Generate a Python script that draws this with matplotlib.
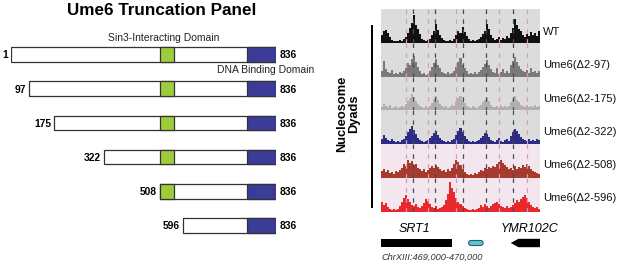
import numpy as np
import matplotlib
matplotlib.use('Agg')
import matplotlib.pyplot as plt
from matplotlib.patches import Rectangle, FancyBboxPatch, Polygon
from matplotlib.lines import Line2D

plt.rcParams['font.family'] = ['Liberation Sans', 'DejaVu Sans']

# ---------------- data: Ume6 truncation constructs ----------------
construct_starts = [1, 97, 175, 322, 508, 596]
protein_end = 836
sin3_domain = (508, 561)
dbd_domain = (760, 836)

# ---------------- data: nucleosome dyad tracks ----------------
region = (469000, 470000)
track_labels = ["WT", "Ume6(\u03942-97)", "Ume6(\u03942-175)",
                "Ume6(\u03942-322)", "Ume6(\u03942-508)", "Ume6(\u03942-596)"]
wt = [8, 12, 13, 10, 6, 3, 2, 2, 2, 3, 2, 4, 6, 10, 15, 20, 28, 18, 14, 9,
      4, 3, 2, 3, 4, 8, 12, 19, 13, 8, 5, 3, 2, 2, 3, 2, 4, 8, 12, 10,
      16, 11, 7, 4, 2, 3, 2, 3, 4, 6, 9, 12, 19, 14, 8, 5, 3, 4, 6, 3,
      5, 4, 7, 5, 10, 15, 24, 18, 14, 12, 8, 6, 9, 7, 11, 8, 10, 7, 12]
d97 = [6, 16, 8, 5, 4, 7, 3, 4, 3, 5, 4, 6, 9, 14, 12, 18, 21, 15, 10, 6,
       3, 4, 2, 3, 6, 10, 14, 18, 12, 9, 5, 4, 3, 5, 3, 4, 6, 10, 15, 19,
       12, 9, 6, 3, 4, 3, 5, 3, 5, 7, 10, 13, 17, 12, 8, 5, 4, 9, 3, 5,
       8, 4, 6, 4, 12, 16, 20, 15, 11, 8, 6, 5, 7, 4, 9, 5, 6, 4, 6]
d175 = [3, 6, 4, 3, 5, 2, 3, 4, 2, 3, 4, 3, 6, 9, 12, 16, 13, 9, 6, 4,
        3, 2, 4, 2, 4, 7, 11, 14, 10, 6, 4, 3, 4, 2, 3, 5, 4, 8, 12, 14,
        10, 7, 4, 3, 2, 4, 3, 2, 4, 5, 8, 10, 12, 9, 5, 3, 3, 4, 2, 5,
        3, 4, 3, 4, 8, 11, 14, 10, 8, 5, 4, 3, 5, 3, 4, 3, 5, 3, 4]
d322 = [5, 9, 6, 4, 3, 5, 3, 2, 3, 2, 4, 5, 8, 12, 15, 18, 14, 10, 6, 4,
        3, 2, 3, 4, 6, 8, 11, 13, 9, 6, 4, 3, 2, 3, 2, 4, 5, 9, 13, 16,
        12, 8, 5, 3, 2, 3, 2, 3, 4, 6, 8, 11, 10, 7, 4, 3, 2, 4, 6, 3,
        2, 4, 5, 3, 8, 12, 15, 13, 10, 7, 5, 4, 3, 5, 3, 4, 3, 5, 4]
d508 = [7, 9, 6, 8, 5, 6, 4, 7, 6, 8, 10, 14, 12, 18, 15, 17, 13, 14, 10, 9,
        7, 9, 6, 8, 10, 12, 10, 13, 11, 9, 7, 8, 6, 9, 7, 10, 14, 18, 16, 13,
        9, 6, 4, 3, 4, 3, 5, 4, 6, 8, 7, 10, 9, 11, 10, 12, 11, 14, 16, 18,
        15, 13, 11, 9, 10, 8, 12, 9, 11, 10, 13, 11, 14, 12, 9, 7, 6, 5, 4]
d596 = [10, 7, 9, 5, 3, 2, 3, 2, 3, 6, 10, 14, 17, 13, 10, 7, 6, 8, 5, 4,
        6, 9, 13, 11, 8, 5, 4, 6, 3, 4, 5, 7, 12, 18, 30, 24, 20, 14, 10, 8,
        6, 4, 3, 2, 2, 3, 2, 3, 4, 7, 5, 8, 6, 4, 6, 8, 9, 10, 8, 6,
        5, 4, 6, 4, 5, 7, 9, 12, 10, 13, 15, 17, 14, 10, 7, 5, 4, 5, 3]
track_values = [wt, d97, d175, d322, d508, d596]
track_colors = ['#111111', '#7a7a7a', '#b0b0b0', '#2c2c86', '#a63a2c', '#e9282d']
track_bg = ['#dcdcdc', '#dcdcdc', '#dcdcdc', '#dcdcdc', '#f4e6ee', '#f4e6ee']
dyads_dark = [469199, 469342, 469514, 469660, 469832]
dyads_pink = [469157, 469297, 469472, 469744, 469916]
srt1 = (469000, 469447)
element = (469551, 469642)
ymr102c = (469816, 470000)

# ---------------- figure ----------------
W, H = 617, 263
fig = plt.figure(figsize=(W / 100, H / 100), dpi=100)
fig.patch.set_facecolor('white')

def fx(px):
    return px / W

def fy(py):
    return 1 - py / H

# ---------- left panel (schematic drawn on a non-linear residue scale) ----------
res_anchor = np.array([1, 97, 175, 322, 508, 596, 836], dtype=float)
draw_anchor = np.array([10.7, 29.3, 54.3, 104.3, 160, 183.3, 276])

def fwd(x):
    return np.interp(x, res_anchor, draw_anchor)

def inv(y):
    return np.interp(y, draw_anchor, res_anchor)

axl = fig.add_axes([fx(10.7), 0, (276 - 10.7) / W, 1])
axl.set_xscale('function', functions=(fwd, inv))
axl.set_xlim(1, protein_end)
row0, rowstep = 54.5, 34.2
axl.set_ylim((H - row0) / rowstep, -row0 / rowstep)
axl.axis('off')

hh = 0.215
edge = '#333333'
for i, s in enumerate(construct_starts):
    axl.add_patch(Rectangle((s, i - hh), protein_end - s, 2 * hh, fc='white',
                            ec=edge, lw=0.9, zorder=2))
    if s <= sin3_domain[0]:
        axl.add_patch(Rectangle((sin3_domain[0], i - hh), sin3_domain[1] - sin3_domain[0],
                                2 * hh, fc='#9fcc3b', ec=edge, lw=0.9, zorder=3))
    axl.add_patch(Rectangle((dbd_domain[0], i - hh), dbd_domain[1] - dbd_domain[0],
                            2 * hh, fc='#3b3b98', ec=edge, lw=0.9, zorder=3))
    axl.annotate(str(s), xy=(s, i), xytext=(-2.3, 0), textcoords='offset points',
                 ha='right', va='center_baseline', fontsize=7.4, fontweight='bold',
                 annotation_clip=False)
    axl.annotate(str(protein_end), xy=(protein_end, i), xytext=(2.4, 0),
                 textcoords='offset points', ha='left', va='center_baseline',
                 fontsize=7.4, fontweight='bold', annotation_clip=False)

axl.annotate('Sin3-Interacting Domain', xy=(sum(sin3_domain) / 2, 0), xytext=(-2.2, 9.7),
             textcoords='offset points', ha='center', va='baseline', fontsize=7.5,
             color='#222222', annotation_clip=False)
axl.annotate('DNA Binding Domain', xy=(sum(dbd_domain) / 2, 1), xytext=(3.2, 11.2),
             textcoords='offset points', ha='center', va='baseline', fontsize=7.5,
             color='#222222', annotation_clip=False)

fig.text(fx(161.7), fy(15), 'Ume6 Truncation Panel', ha='center', va='baseline',
         fontsize=12.3, fontweight='bold')

# ---------- right panel: tracks ----------
tx0, tw, ty0, th = 381, 159, 9, 33.8
nb = len(wt)
edges = np.linspace(region[0], region[1], nb + 1)
dash = (0, (3.6, 4.3))
for i, (vals, col, bg, lab) in enumerate(zip(track_values, track_colors, track_bg, track_labels)):
    ax = fig.add_axes([fx(tx0), fy(ty0 + th * (i + 1)), tw / W, th / H])
    ax.set_facecolor(bg)
    ax.stairs(vals, edges, fill=True, color=col, lw=0)
    ax.set_xlim(*region)
    ax.set_ylim(0, th)
    ax.set_xticks([])
    ax.set_yticks([])
    for sp in ax.spines.values():
        sp.set_visible(False)
    for x in dyads_dark:
        ax.plot([x, x], [th, 0], color='#4a4a4a', lw=0.9, ls=dash, zorder=3)
    for x in dyads_pink:
        ax.plot([x, x], [th, 0], color='#d39cb8', lw=0.9, ls=dash, zorder=3)
    ax.text(1.017, 0.34 + 0.02 * i, lab, transform=ax.transAxes, ha='left',
            va='center_baseline', fontsize=8.0, color='#111111')

fig.text(fx(348), fy(114), 'Nucleosome\nDyads', rotation=90, ha='center', va='center',
         multialignment='center', fontsize=9.3, fontweight='bold', linespacing=0.95)
fig.add_artist(Line2D([fx(372.3)] * 2, [fy(26), fy(206.7)], color='black', lw=1.4))

# ---------- gene annotation ----------
axg = fig.add_axes([fx(tx0), fy(250), tw / W, 14 / H])
axg.set_xlim(*region)
axg.set_ylim(-1, 1)
axg.axis('off')
gh = 0.6
axg.add_patch(Rectangle((srt1[0], -gh), srt1[1] - srt1[0], 2 * gh, fc='black', lw=0))
bp_per_px = (region[1] - region[0]) / tw
unit_per_px = 2 / 14
axg.add_patch(FancyBboxPatch((element[0], -0.36), element[1] - element[0], 0.72,
                             boxstyle='round,pad=0,rounding_size=%f' % (2.5 * bp_per_px),
                             mutation_aspect=unit_per_px / bp_per_px,
                             fc='#5cc8d2', ec='#2b5f66', lw=0.8))
head = 7.7 * bp_per_px
axg.add_patch(Polygon([(ymr102c[0], 0), (ymr102c[0] + head, gh), (ymr102c[1], gh),
                       (ymr102c[1], -gh), (ymr102c[0] + head, -gh)], closed=True,
                      fc='black', lw=0))
axg.annotate('SRT1', xy=(469208, 0), xytext=(0, 8.1), textcoords='offset points',
             ha='center', va='baseline', fontsize=9, fontstyle='italic',
             annotation_clip=False)
axg.annotate('YMR102C', xy=(469935, 0), xytext=(0, 8.1), textcoords='offset points',
             ha='center', va='baseline', fontsize=9, fontstyle='italic',
             annotation_clip=False)
axg.annotate('ChrXIII:469,000-470,000', xy=(region[0], 0), xytext=(0, -12.2),
             textcoords='offset points', ha='left', va='baseline', fontsize=6.7,
             fontstyle='italic', color='#333333', annotation_clip=False)

fig.savefig('out.png', dpi=100, facecolor='white')
